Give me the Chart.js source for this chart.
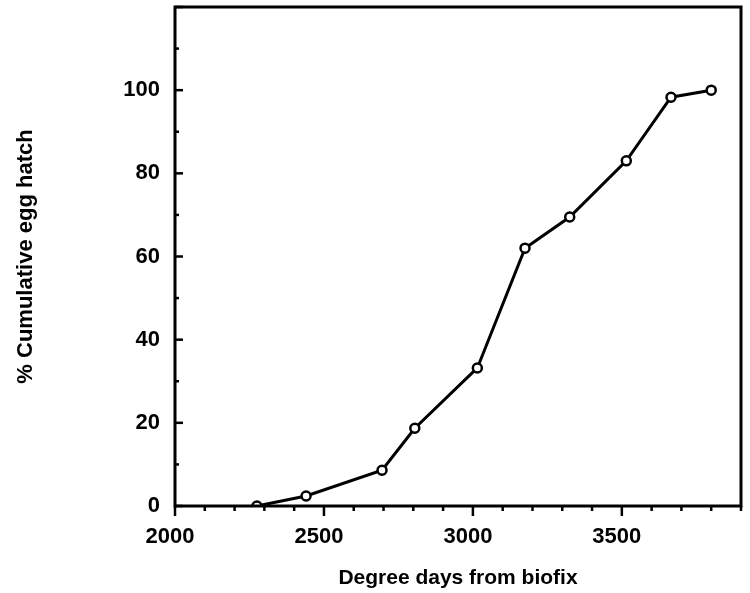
<!DOCTYPE html>
<html>
<head>
<meta charset="utf-8">
<script src="https://cdn.jsdelivr.net/npm/chart.js@4.4.1/dist/chart.umd.min.js"></script>
<style>
  html, body { margin: 0; padding: 0; background: #fff; }
  #wrap { width: 750px; height: 593px; }
</style>
</head>
<body>
<div id="wrap"><canvas id="myChart" width="750" height="593"></canvas></div>
<script>
// degree days vs % cumulative egg hatch
const degreeDays = [2275, 2440, 2695, 2805, 3015, 3175, 3325, 3515, 3665, 3800];
const eggHatch = [0, 2.4, 8.6, 18.7, 33.2, 62, 69.5, 83, 98.3, 100];

const xTickLabels = [2000, 2500, 3000, 3500];
const yTickLabels = [0, 20, 40, 60, 80, 100];

const fontFam = '"Liberation Sans", Arial, sans-serif';

// frame + small tick marks (inside on y, outside on x)
const frameTicks = {
    id: 'frameTicks',
    afterDraw(chart) {
        const c = chart.ctx;
        const a = chart.chartArea;
        const xs = chart.scales.x;
        const ys = chart.scales.y;
        c.save();
        c.strokeStyle = '#000';
        c.lineWidth = 3;
        c.strokeRect(a.left, a.top, a.right - a.left, a.bottom - a.top);
        c.lineWidth = 2.5;
        for (let v = 2000; v <= 3900; v += 100) {
            const px = xs.getPixelForValue(v);
            const len = v % 500 === 0 ? 10 : 5;
            c.beginPath();
            c.moveTo(px, a.bottom);
            c.lineTo(px, a.bottom + len);
            c.stroke();
        }
        for (let v = 0; v <= 120; v += 10) {
            const py = ys.getPixelForValue(v);
            const len = v % 20 === 0 ? 8 : 4;
            c.beginPath();
            c.moveTo(a.left, py);
            c.lineTo(a.left + len, py);
            c.stroke();
        }
        c.restore();
    }
};

const ctx = document.getElementById('myChart').getContext('2d');
const myChart = new Chart(ctx, {
    type: 'line',
    data: {
        datasets: [{
            data: degreeDays.map((d, i) => ({x: d, y: eggHatch[i]})),
            borderColor: '#000',
            borderWidth: 3,
            pointRadius: 4.5,
            pointBorderWidth: 2.5,
            pointBackgroundColor: '#fff',
            pointBorderColor: '#000',
            fill: false,
            tension: 0
        }]
    },
    options: {
        responsive: false,
        animation: false,
        layout: { padding: { left: 0, top: 3, right: 9, bottom: 0 } },
        plugins: {
            legend: { display: false },
            tooltip: { enabled: false }
        },
        scales: {
            x: {
                type: 'linear',
                min: 2000,
                max: 3900,
                grid: { display: false, drawTicks: false },
                border: { display: false },
                afterBuildTicks: (s) => { s.ticks = xTickLabels.map(v => ({value: v})); },
                afterFit: (s) => { s.height = 87; s.paddingLeft = 0; s.paddingRight = 0; },
                ticks: {
                    autoSkip: false,
                    maxRotation: 0,
                    padding: 18,
                    labelOffset: -5,
                    color: '#000',
                    font: { family: fontFam, size: 22, weight: 'bold' },
                    callback: (v) => String(v)
                },
                title: {
                    display: true,
                    text: 'Degree days from biofix',
                    color: '#000',
                    font: { family: fontFam, size: 21, weight: 'bold' },
                    padding: { top: 0, bottom: 2 }
                }
            },
            y: {
                min: 0,
                max: 120,
                grid: { display: false, drawTicks: false },
                border: { display: false },
                afterBuildTicks: (s) => { s.ticks = yTickLabels.map(v => ({value: v})); },
                afterFit: (s) => { s.width = 175; s.paddingTop = 0; s.paddingBottom = 0; },
                ticks: {
                    autoSkip: false,
                    padding: 15,
                    color: '#000',
                    font: { family: fontFam, size: 22, weight: 'bold' },
                    callback: (v) => String(v)
                },
                title: {
                    display: true,
                    text: '% Cumulative egg hatch',
                    color: '#000',
                    font: { family: fontFam, size: 22, weight: 'bold' },
                    padding: { top: 13, bottom: 0 }
                }
            }
        }
    },
    plugins: [frameTicks]
});
</script>
</body>
</html>
